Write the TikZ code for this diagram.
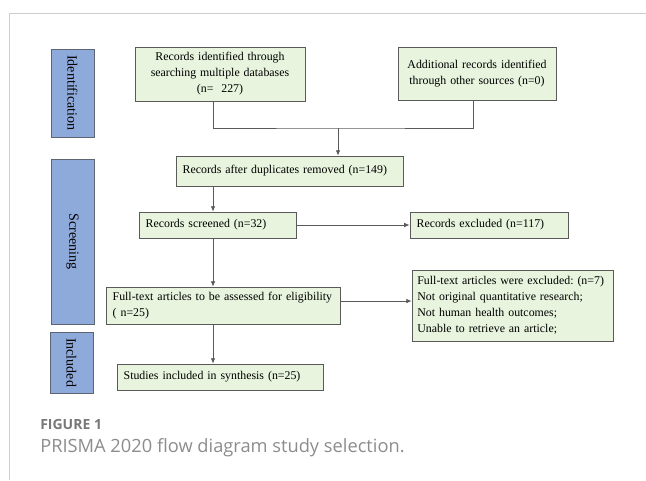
\documentclass[tikz,border=0pt]{standalone}
\usepackage{fontspec}
\setmainfont{Liberation Serif}[WordSpace=0.85]
\newfontfamily\captionfont{Open Sans}
\usetikzlibrary{positioning,arrows.meta}
\definecolor{boxfill}{RGB}{232,244,222}
\definecolor{boxline}{RGB}{90,90,90}
\definecolor{phasefill}{RGB}{142,170,219}
\definecolor{phaseline}{RGB}{95,100,115}
\definecolor{framegray}{RGB}{206,206,206}
\definecolor{labelgray}{RGB}{120,120,120}
\definecolor{titlegray}{RGB}{140,140,140}

\begin{document}
\begin{tikzpicture}[
    >={Latex[length=4pt,width=3.5pt]},
    on grid,
    stepbox/.style={draw=boxline, fill=boxfill, line width=0.6pt,
      inner xsep=5pt, inner ysep=2pt, font=\fontsize{8.9}{12}\selectfont},
    phase/.style={draw=phaseline, fill=phasefill, line width=0.6pt,
      rotate=-90, minimum height=32.25pt, font=\fontsize{10.5}{12}\selectfont},
    link/.style={draw=boxline, line width=0.6pt}]
    \useasboundingbox (0,0) rectangle (484.5pt,-360pt);
    \draw[framegray, line width=0.75pt] (484.5pt,-9.75pt) -- (6.75pt,-9.75pt) -- (6.75pt,-360pt);

       \node[stepbox, text width=117.5pt, align=center, minimum height=40.5pt] (idsrc) at (165pt,-55.5pt)
         {Records identified through\\ searching multiple databases\\ (n=\ \ 227)};
       \node[stepbox, text width=108.5pt, align=center, minimum height=39.75pt] (addsrc) [right=192.75pt of idsrc]
         {Additional records identified\\ through other sources (n=0)};
       \node[stepbox, text width=160.25pt, align=left, minimum height=22.5pt] (dedup) [below right=72.75pt and 52.1pt of idsrc]
         {Records after duplicates removed (n=149)};
       \node[stepbox, text width=107.75pt, align=left, minimum height=19.5pt] (screened) [below left=40.5pt and 54pt of dedup]
         {Records screened (n=32)};
       \node[stepbox, text width=108.5pt, align=left, minimum height=19.5pt] (excl) [right=203.6pt of screened]
         {Records excluded (n=117)};
       \node[stepbox, text width=165.5pt, align=left, minimum height=27.75pt] (fulltext) [below right=60.4pt and 4.15pt of screened]
         {Full-text articles to be assessed for eligibility\\ ( n=25)};
       \node[stepbox, inner xsep=4pt, text width=142.75pt, align=left, minimum height=53.25pt] (ftexcl) [right=217.15pt of fulltext]
         {Full-text articles were excluded:~(n=7)\\ Not original quantitative research;\\ Not human health outcomes;\\ Unable to retrieve an article;};
       \node[stepbox, text width=144.5pt, align=left, minimum height=19.5pt] (studies) [below left=53.6pt and 2.25pt of fulltext]
         {Studies included in synthesis (n=25)};

       % phases
       \node[phase, minimum width=66pt] (ident) [below left=14.25pt and 110.6pt of idsrc] {Identification};
       \node[phase, minimum width=123.75pt] (screen) [below left=12.35pt and 108.7pt of screened] {Screening};
       \node[phase, minimum width=45.75pt] (incl) [above left=10.85pt and 111.4pt of studies] {Included};

       \coordinate (spine) at (159.75pt,0);
       \coordinate (merge) at (253.5pt,-96pt);
        \draw[link] (idsrc.south -| spine) |- (merge) -| ([xshift=-3pt]addsrc.south);
        \draw[link,->] (merge) -- (merge |- dedup.north);
        \draw[link,->] (dedup.south -| spine) -- (screened.north -| spine);
        \draw[link,->] (screened.east) -- (screened.east -| excl.west);
        \draw[link,->] (screened.south -| spine) -- (fulltext.north -| spine);
        \draw[link,->] ([yshift=3.4pt]fulltext.east) -- ([yshift=3.4pt]fulltext.east -| ftexcl.west);
        \draw[link,->] (fulltext.south -| spine) -- (studies.north -| spine);

       % caption
       \node[anchor=base west, inner sep=0pt, text=labelgray, font=\captionfont\bfseries\fontsize{10.5}{12}\selectfont] (figlabel) at (30pt,-321.75pt) {FIGURE 1};
       \node[anchor=base west, inner sep=0pt, text=titlegray, font=\captionfont\fontsize{13.7}{16}\selectfont] (figtitle) at (30pt,-339pt) {PRISMA 2020 flow diagram study selection.};
    \end{tikzpicture}
\end{document}
